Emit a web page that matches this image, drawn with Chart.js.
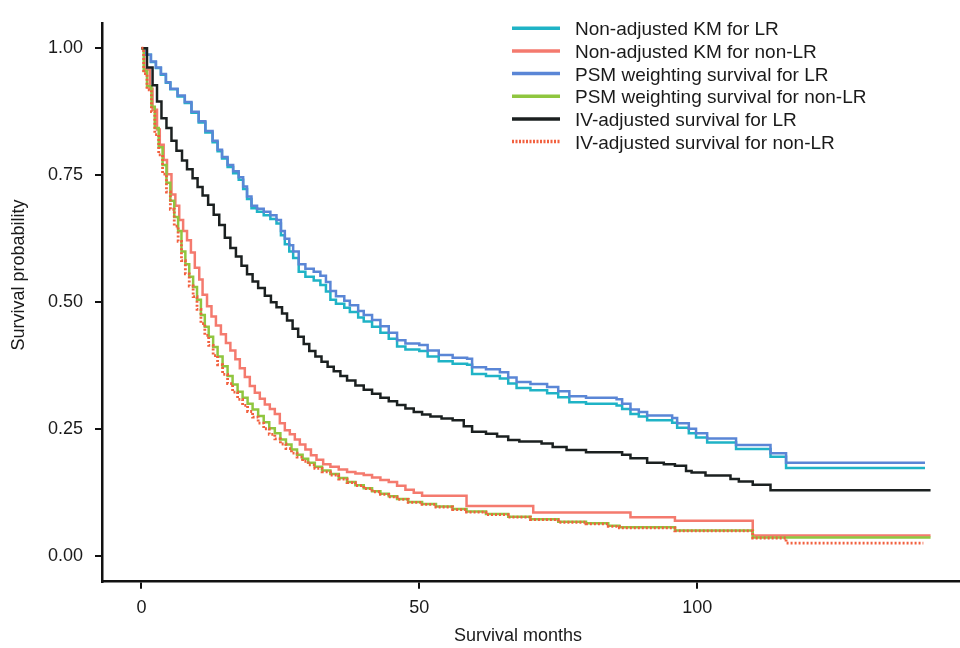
<!DOCTYPE html>
<html>
<head>
<meta charset="utf-8">
<title>Survival curves: LR vs non-LR</title>
<script src="https://cdn.jsdelivr.net/npm/chart.js@4.4.1/dist/chart.umd.min.js"></script>
<style>
  html, body { margin: 0; padding: 0; background: #fff; }
  #wrap { width: 960px; height: 648px; }
</style>
</head>
<body>
<div id="wrap"><canvas id="survivalChart" width="960" height="648"></canvas></div>
<script>
// Tick labels
const monthTicks = [0, 50, 100];
const probTicks = [0, 0.25, 0.5, 0.75, 1];

// Non-adjusted KM and PSM weighting for LR share the same step times
const lrMonths = [0, 0.8, 1.7, 2.6, 3.5, 4.4, 5.2, 6.5, 7.8, 9, 10.3, 11.5, 12.8, 13.7, 14.5, 15.5, 16.5, 17.5, 18.3, 19,
  19.8, 20.8, 22, 23.2, 24.3, 25.1, 25.8, 26.6, 27.3, 28.3, 29.5, 31, 32.2, 33.2, 34, 35, 36.5, 37.5, 39, 40,
  41.5, 43, 44.5, 46, 47.5, 50, 51.5, 53.5, 56, 58.6, 59.5, 62, 64.5, 66, 67.5, 70, 73, 75, 77, 80,
  85.5, 86.5, 88, 89.5, 91, 95.5, 96.4, 98.5, 99.8, 101.8, 107, 113.2, 116, 141];
const kmLrSurv = [1, 0.987, 0.973, 0.961, 0.948, 0.932, 0.919, 0.905, 0.892, 0.873, 0.854, 0.834, 0.815, 0.797, 0.783, 0.766, 0.754, 0.741, 0.723, 0.703,
  0.685, 0.678, 0.671, 0.664, 0.655, 0.632, 0.614, 0.600, 0.587, 0.560, 0.550, 0.543, 0.534, 0.521, 0.505, 0.497, 0.489, 0.481, 0.470, 0.462,
  0.452, 0.440, 0.428, 0.413, 0.407, 0.404, 0.393, 0.384, 0.379, 0.377, 0.359, 0.355, 0.350, 0.340, 0.331, 0.327, 0.321, 0.313, 0.303, 0.300,
  0.297, 0.290, 0.280, 0.275, 0.268, 0.263, 0.253, 0.242, 0.234, 0.224, 0.211, 0.196, 0.174, 0.174];
const psmLrSurv = [1, 0.987, 0.974, 0.962, 0.949, 0.933, 0.920, 0.907, 0.894, 0.875, 0.856, 0.837, 0.818, 0.800, 0.786, 0.770, 0.758, 0.746, 0.728, 0.708,
  0.690, 0.684, 0.678, 0.671, 0.662, 0.640, 0.625, 0.612, 0.600, 0.575, 0.566, 0.560, 0.552, 0.540, 0.522, 0.512, 0.503, 0.494, 0.483, 0.475,
  0.465, 0.453, 0.440, 0.425, 0.419, 0.416, 0.405, 0.396, 0.391, 0.389, 0.372, 0.368, 0.362, 0.352, 0.343, 0.339, 0.333, 0.325, 0.315, 0.312,
  0.309, 0.300, 0.289, 0.284, 0.277, 0.272, 0.262, 0.251, 0.242, 0.232, 0.219, 0.203, 0.184, 0.184];

// Non-adjusted KM for non-LR
const kmNonMonths = [0, 0.5, 1.5, 2, 2.8, 3.3, 4, 4.6, 5.4, 6.1, 6.8, 7.5, 8.2, 8.9, 9.6, 10.4, 11, 11.8, 12.6, 13.4,
  14.3, 15.2, 16, 16.9, 17.7, 18.6, 19.5, 20.4, 21.3, 22.2, 23.1, 24, 24.9, 25.8, 26.7, 27.6, 28.5, 29.5, 30.5, 31.5,
  32.7, 34, 35.5, 37, 38.5, 40, 41.5, 43, 44.5, 46, 47.5, 49, 50.5, 58.5, 70.5, 88, 96, 110, 142];
const kmNonSurv = [1, 0.958, 0.920, 0.879, 0.840, 0.810, 0.780, 0.752, 0.712, 0.690, 0.662, 0.640, 0.622, 0.598, 0.568, 0.545, 0.515, 0.492, 0.472, 0.454,
  0.437, 0.420, 0.405, 0.388, 0.370, 0.353, 0.335, 0.322, 0.310, 0.299, 0.290, 0.280, 0.262, 0.248, 0.240, 0.230, 0.220, 0.210, 0.199, 0.190,
  0.181, 0.176, 0.171, 0.166, 0.163, 0.160, 0.155, 0.150, 0.146, 0.139, 0.131, 0.125, 0.119, 0.099, 0.086, 0.077, 0.070, 0.041, 0.041];

// PSM weighting survival for non-LR
const psmNonMonths = [0, 0.4, 1, 1.8, 2.4, 3.1, 3.8, 4.5, 5.2, 5.9, 6.6, 7.2, 7.9, 8.6, 9.3, 10, 10.7, 11.4, 12.1, 12.9,
  13.7, 14.6, 15.5, 16.4, 17.3, 18.2, 19.1, 20, 21, 22, 23, 24, 25, 26, 27, 28, 29, 30, 31.2, 32.5,
  34, 35.5, 37, 38.5, 40, 41.5, 43, 44.5, 46, 48, 50.5, 53, 56, 58.5, 62, 66, 70, 75, 80, 84,
  86, 96, 110, 142];
const psmNonSurv = [1, 0.955, 0.925, 0.885, 0.843, 0.805, 0.770, 0.735, 0.700, 0.668, 0.640, 0.600, 0.575, 0.550, 0.530, 0.505, 0.475, 0.452, 0.432, 0.412,
  0.393, 0.374, 0.355, 0.338, 0.324, 0.312, 0.300, 0.289, 0.276, 0.264, 0.252, 0.242, 0.230, 0.220, 0.210, 0.200, 0.192, 0.184, 0.176, 0.169,
  0.162, 0.154, 0.146, 0.140, 0.134, 0.128, 0.123, 0.118, 0.113, 0.107, 0.103, 0.098, 0.093, 0.088, 0.083, 0.078, 0.073, 0.068, 0.065, 0.060,
  0.057, 0.051, 0.037, 0.037];

// IV-adjusted survival for LR
const ivLrMonths = [0, 1, 2, 2.8, 3.6, 4.5, 5.4, 6.3, 7.3, 8.2, 9.2, 10.1, 11, 12, 13, 14, 15, 16, 17, 18,
  19, 20, 21, 22.2, 23.3, 24.3, 25.3, 26.2, 27.2, 28.2, 29.2, 30.2, 31.3, 32.4, 33.5, 34.6, 35.8, 37, 38.5, 40,
  41.5, 43, 44.5, 46, 47.5, 49, 50.5, 52, 54, 56, 58, 59.5, 62, 64, 66, 68, 72, 74, 76.5, 80,
  86.5, 88, 91, 94, 96, 98, 99, 101.5, 106, 107.5, 110, 113.2, 142];
const ivLrSurv = [1, 0.962, 0.927, 0.895, 0.862, 0.843, 0.818, 0.798, 0.779, 0.762, 0.744, 0.727, 0.710, 0.692, 0.672, 0.652, 0.627, 0.607, 0.590, 0.572,
  0.555, 0.541, 0.528, 0.513, 0.500, 0.490, 0.478, 0.464, 0.448, 0.432, 0.418, 0.404, 0.393, 0.383, 0.373, 0.364, 0.355, 0.346, 0.336, 0.328,
  0.320, 0.312, 0.305, 0.298, 0.291, 0.284, 0.279, 0.275, 0.271, 0.268, 0.256, 0.245, 0.241, 0.236, 0.229, 0.226, 0.222, 0.215, 0.209, 0.205,
  0.200, 0.193, 0.184, 0.181, 0.178, 0.168, 0.165, 0.159, 0.152, 0.147, 0.141, 0.130, 0.130];

// IV-adjusted survival for non-LR
const ivNonMonths = [0, 0.4, 1, 1.8, 2.4, 3.1, 3.8, 4.5, 5.2, 5.9, 6.6, 7.2, 7.9, 8.6, 9.3, 10, 10.7, 11.4, 12.1, 12.9,
  13.7, 14.6, 15.5, 16.4, 17.3, 18.2, 19.1, 20, 21, 22, 23, 24, 25, 26, 27, 28, 29, 30, 31.2, 32.5,
  34, 35.5, 37, 38.5, 40, 41.5, 43, 44.5, 46, 48, 50.5, 53, 56, 58.5, 62, 66, 70, 75, 80, 84,
  86, 96, 110, 116, 140.7];
const ivNonSurv = [1, 0.950, 0.918, 0.875, 0.830, 0.790, 0.752, 0.717, 0.683, 0.650, 0.620, 0.582, 0.556, 0.532, 0.511, 0.486, 0.458, 0.435, 0.415, 0.395,
  0.377, 0.358, 0.340, 0.323, 0.309, 0.297, 0.285, 0.274, 0.262, 0.251, 0.240, 0.231, 0.221, 0.212, 0.203, 0.195, 0.187, 0.180, 0.173, 0.166,
  0.160, 0.152, 0.145, 0.139, 0.133, 0.127, 0.122, 0.117, 0.112, 0.106, 0.102, 0.097, 0.092, 0.087, 0.082, 0.077, 0.072, 0.067, 0.064, 0.059,
  0.056, 0.050, 0.036, 0.026, 0.026];

const FONT = '"Liberation Sans", Arial, Helvetica, sans-serif';
const INK = "#1a1a1a";

function stepLine(label, months, surv, color, dotted) {
  return {
    label,
    data: months.map((m, i) => ({ x: m, y: surv[i] })),
    borderColor: color,
    borderWidth: dotted ? 2.8 : 2.5,
    borderDash: dotted ? [2, 2] : [],
    stepped: true,
    pointRadius: 0,
    fill: false
  };
}

const datasets = [
  stepLine("Non-adjusted KM for LR", lrMonths, kmLrSurv, "#1fb3c6", false),
  stepLine("Non-adjusted KM for non-LR", kmNonMonths, kmNonSurv, "#f47a6e", false),
  stepLine("PSM weighting survival for LR", lrMonths, psmLrSurv, "#5a86d6", false),
  stepLine("PSM weighting survival for non-LR", psmNonMonths, psmNonSurv, "#8fc63f", false),
  stepLine("IV-adjusted survival for LR", ivLrMonths, ivLrSurv, "#1b2020", false),
  stepLine("IV-adjusted survival for non-LR", ivNonMonths, ivNonSurv, "#f2603f", true)
];
// later legend entries sit on top
datasets.forEach((ds, i) => { ds.order = datasets.length - 1 - i; });

// legend in the top right + axis titles
const cornerLegend = {
  id: "cornerLegend",
  afterDraw(chart) {
    const ctx = chart.ctx;
    ctx.save();
    ctx.font = "19px " + FONT;
    ctx.fillStyle = INK;
    ctx.textBaseline = "alphabetic";
    chart.data.datasets.forEach((ds, i) => {
      const base = 35.3 + i * 22.65;
      ctx.strokeStyle = ds.borderColor;
      ctx.lineWidth = 3.5;
      ctx.setLineDash(ds.borderDash.length ? [2, 1.5] : []);
      ctx.beginPath();
      ctx.moveTo(512, base - 7);
      ctx.lineTo(560, base - 7);
      ctx.stroke();
      ctx.fillText(ds.label, 575, base);
    });
    ctx.setLineDash([]);
    ctx.font = "18px " + FONT;
    ctx.textAlign = "center";
    ctx.textBaseline = "middle";
    ctx.fillText("Survival months", 518, 636);
    ctx.translate(19, 275);
    ctx.rotate(-Math.PI / 2);
    ctx.fillText("Survival probability", 0, 0);
    ctx.restore();
  }
};

new Chart(document.getElementById("survivalChart"), {
  type: "line",
  data: { datasets },
  options: {
    responsive: false,
    animation: false,
    events: [],
    layout: { padding: { top: 9, right: 0, bottom: 0, left: 0 } },
    plugins: { legend: { display: false }, tooltip: { enabled: false } },
    scales: {
      x: {
        type: "linear",
        min: -7.1,
        max: 147.3,
        afterBuildTicks: s => { s.ticks = monthTicks.map(v => ({ value: v })); },
        afterFit: s => { s.height = 66.3; },
        ticks: { color: INK, font: { size: 18, family: FONT }, padding: 9, maxRotation: 0, autoSkip: false, callback: v => String(v) },
        grid: { drawOnChartArea: false, drawTicks: true, tickLength: 7, color: "#111", lineWidth: 2 },
        border: { display: true, color: "#111", width: 2.5 }
      },
      y: {
        min: -0.05,
        max: 1.05,
        afterBuildTicks: s => { s.ticks = probTicks.map(v => ({ value: v })); },
        afterFit: s => { s.width = 102; },
        ticks: { color: INK, font: { size: 18, family: FONT }, padding: 12, callback: v => v.toFixed(2) },
        grid: { drawOnChartArea: false, drawTicks: true, tickLength: 7, color: "#111", lineWidth: 2 },
        border: { display: true, color: "#111", width: 2.5 }
      }
    }
  },
  plugins: [cornerLegend]
});
</script>
</body>
</html>
